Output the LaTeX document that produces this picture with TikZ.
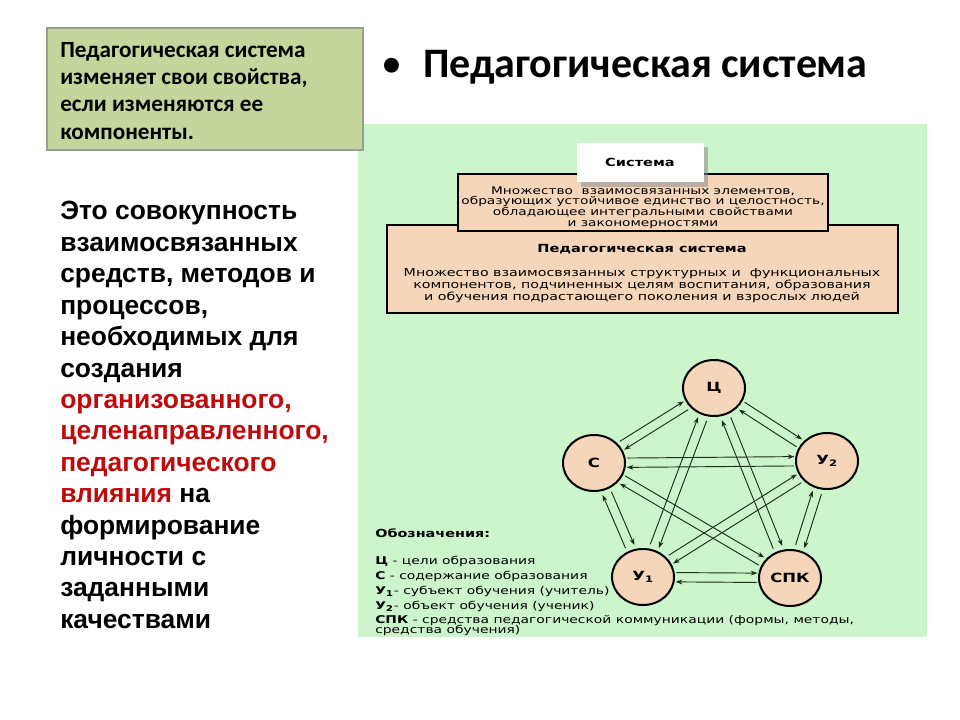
\documentclass[tikz,border=0pt]{standalone}
\usepackage{fontspec}
\setmainfont{Liberation Sans}
\newfontfamily\calfont{Carlito}
\newfontfamily\dgfont[FakeStretch=1.3]{DejaVu Sans}
\newfontfamily\lgfont[FakeStretch=1.3]{DejaVu Sans}
\usetikzlibrary{calc,arrows.meta,shapes.geometric}
\definecolor{panel}{RGB}{205,245,204}
\definecolor{peach}{RGB}{246,214,186}
\definecolor{olive}{RGB}{196,214,156}
\definecolor{oliveedge}{RGB}{150,160,140}
\definecolor{dred}{RGB}{190,10,10}
\definecolor{arrowc}{RGB}{25,45,25}
\tikzset{
  lefttxt/.style={anchor=base west,inner sep=0,font=\bfseries\fontsize{19.8pt}{23pt}\selectfont},
  boxtxt/.style={anchor=base west,inner sep=0,font=\calfont\bfseries\fontsize{17.4pt}{19pt}\selectfont},
  boxline/.style={draw=black,line width=1.8pt},
  dtxt/.style={inner sep=0,align=center,font=\dgfont\fontsize{8.2pt}{7.9pt}\selectfont},
  dbold/.style={inner sep=0,font=\dgfont\bfseries\fontsize{8.4pt}{9pt}\selectfont},
  lg/.style={anchor=base west,inner sep=0,font=\lgfont\fontsize{8pt}{9pt}\selectfont},
  nd/.style={ellipse,draw=black,line width=1.5pt,fill=peach,minimum width=46.5pt,minimum height=42pt,inner sep=0,font=\dgfont\bfseries\fontsize{9.5pt}{10pt}\selectfont},
  arr/.style={draw=arrowc,line width=0.7pt,-{Stealth[length=5pt,width=3.6pt]},shorten <=25pt,shorten >=24.5pt}
}
\newcommand\dbl[2]{%
  \draw[arr] ($(#1)!3.5pt!90:(#2)$) -- ($(#2)!3.5pt!-90:(#1)$);
  \draw[arr] ($(#2)!3.5pt!90:(#1)$) -- ($(#1)!3.5pt!-90:(#2)$);}
\begin{document}
\begin{tikzpicture}[x=0.75pt,y=-0.75pt]
\useasboundingbox (0,0) rectangle (960,720);
\fill[white] (0,0) rectangle (960,720);
% right diagram panel
\fill[panel] (358,124) rectangle (927,637);
% top-left box
\draw[oliveedge,fill=olive,line width=0.8pt] (47,28) rectangle (363,150);
\node[boxtxt] (t1) at (60,58) {Педагогическая система};
\node[boxtxt] (t2) at (60,85) {изменяет свои свойства,};
\node[boxtxt] (t3) at (60,112) {если изменяются ее};
\node[boxtxt] (t4) at (60,140) {компоненты.};
% bullet title
\node[anchor=base west,inner sep=0,font=\calfont\fontsize{31.5pt}{33pt}\selectfont] (bul) at (381,78) {•};
\node[anchor=base west,inner sep=0,font=\calfont\bfseries\fontsize{31.5pt}{33pt}\selectfont] (title) at (423,78) {Педагогическая система};
% left paragraph
\node[lefttxt] (l1) at (60,220) {Это совокупность};
\node[lefttxt] (l2) at (60,251.4) {взаимосвязанных};
\node[lefttxt] (l3) at (60,282.8) {средств, методов и};
\node[lefttxt] (l4) at (60,314.2) {процессов,};
\node[lefttxt] (l5) at (60,345.6) {необходимых для};
\node[lefttxt] (l6) at (60,377) {создания};
\node[lefttxt,text=dred] (l7) at (60,408.4) {организованного,};
\node[lefttxt,text=dred] (l8) at (60,439.8) {целенаправленного,};
\node[lefttxt,text=dred] (l9) at (60,471.2) {педагогического};
\node[lefttxt] (l10) at (60,502.6) {\textcolor{dred}{влияния} на};
\node[lefttxt] (l11) at (60,534) {формирование};
\node[lefttxt] (l12) at (60,565.4) {личности с};
\node[lefttxt] (l13) at (60,596.8) {заданными};
\node[lefttxt] (l14) at (60,628.2) {качествами};
% boxes of the diagram
\draw[boxline,fill=peach] (387,225) rectangle (898,313);
\draw[boxline,fill=peach] (458,174) rectangle (828,231);
\fill[black!45,opacity=0.55] (581,147) rectangle (708,187);
\fill[white] (577,143) rectangle (704,182);
\node[dbold] (sys) at (640,162) {Система};
\node[dtxt,font=\dgfont\fontsize{7.9pt}{7.9pt}\selectfont] (d1) at (643,207.5) {Множество\ \ взаимосвязанных элементов,\\образующих устойчивое единство и целостность,\\обладающее интегральными свойствами\\и закономерностями};
\node[dbold] (ps) at (642,249) {Педагогическая система};
\node[dtxt] (d2) at (642,286) {Множество взаимосвязанных структурных и\ \ функциональных\\компонентов, подчиненных целям воспитания, образования\\и обучения подрастающего поколения и взрослых людей};
% pentagon nodes
\node[nd] (C) at (714,388) {Ц};
\node[nd] (S) at (594,463) {С};
\node[nd] (U2) at (827,461) {У\textsubscript{2}};
\node[nd] (U1) at (643,577) {У\textsubscript{1}};
\node[nd] (SPK) at (790,578) {СПК};
% connectors
\dbl{S}{C}
\dbl{C}{U2}
\dbl{S}{U2}
\dbl{S}{U1}
\dbl{S}{SPK}
\dbl{U1}{C}
\dbl{C}{SPK}
\dbl{U1}{U2}
\dbl{U2}{SPK}
\dbl{U1}{SPK}
% legend
\node[lg,font=\lgfont\bfseries\fontsize{8.3pt}{9pt}\selectfont] (lg0) at (375,537) {Обозначения:};
\node[lg] (lg1) at (375,564) {\textbf{Ц} - цели образования};
\node[lg] (lg2) at (375,579) {\textbf{С} - содержание образования};
\node[lg] (lg3) at (375,594) {\textbf{У\textsubscript{1}}- субъект обучения (учитель)};
\node[lg] (lg4) at (375,609) {\textbf{У\textsubscript{2}}- объект обучения (ученик)};
\node[lg] (lg5) at (375,623) {\textbf{СПК} - средства педагогической коммуникации (формы, методы,};
\node[lg] (lg6) at (375,633) {средства обучения)};
\end{tikzpicture}
\end{document}
